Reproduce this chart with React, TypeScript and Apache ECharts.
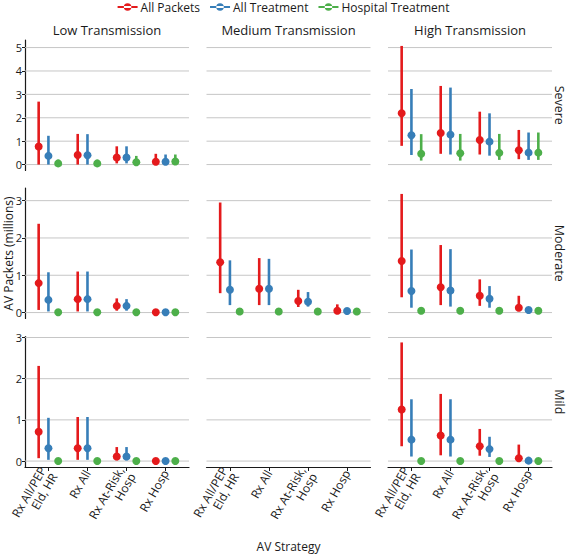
import React, { useEffect, useRef } from "react";
import * as echarts from "echarts";

// ---------- DATA ----------
const categories = ["Rx All/PEP\nEld, HR", "Rx All", "Rx At-Risk,\nHosp", "Rx Hosp"];
const seriesNames = ["All Packets", "All Treatment", "Hospital Treatment"];
const transmissionLevels = ["Low Transmission", "Medium Transmission", "High Transmission"];
const severityLevels = ["Severe", "Moderate", "Mild"];
const severeTicks = [0, 1, 2, 3, 4, 5];
const moderateTicks = [0, 1, 2, 3];
const mildTicks = [0, 1, 2, 3];

// each entry: [estimate, lower, upper] per strategy (millions)
const lowSevereAllPackets = [[0.77, 0, 2.69], [0.41, 0, 1.31], [0.3, 0.05, 0.78], [0.12, 0, 0.46]];
const lowSevereAllTreatment = [[0.37, 0, 1.23], [0.4, 0, 1.3], [0.3, 0.05, 0.78], [0.12, 0, 0.43]];
const lowSevereHospital = [[0.05, 0, 0.2], [0.05, 0, 0.18], [0.1, 0, 0.37], [0.13, 0, 0.43]];

const highSevereAllPackets = [[2.19, 0.8, 5.07], [1.35, 0.46, 3.36], [1.05, 0.43, 2.26], [0.61, 0.23, 1.48]];
const highSevereAllTreatment = [[1.25, 0.41, 3.23], [1.28, 0.43, 3.29], [0.98, 0.38, 2.19], [0.51, 0.2, 1.37]];
const highSevereHospital = [[0.46, 0.17, 1.3], [0.48, 0.17, 1.31], [0.5, 0.2, 1.31], [0.51, 0.2, 1.37]];

const lowModerateAllPackets = [[0.79, 0.07, 2.38], [0.36, 0.03, 1.1], [0.18, 0.05, 0.38], [0.01, 0, 0.03]];
const lowModerateAllTreatment = [[0.34, 0.03, 1.08], [0.36, 0.03, 1.1], [0.18, 0.05, 0.36], [0.01, 0, 0.03]];
const lowModerateHospital = [[0.01, 0, 0.02], [0.01, 0, 0.02], [0.01, 0, 0.02], [0.01, 0, 0.02]];

const mediumModerateAllPackets = [[1.35, 0.52, 2.95], [0.64, 0.2, 1.46], [0.31, 0.15, 0.61], [0.05, 0, 0.22]];
const mediumModerateAllTreatment = [[0.61, 0.2, 1.4], [0.64, 0.2, 1.44], [0.29, 0.16, 0.55], [0.04, 0.01, 0.08]];
const mediumModerateHospital = [[0.03, 0, 0.05], [0.03, 0, 0.05], [0.03, 0, 0.05], [0.03, 0, 0.05]];

const highModerateAllPackets = [[1.38, 0.41, 3.18], [0.68, 0.2, 1.81], [0.45, 0.18, 0.89], [0.13, 0.05, 0.45]];
const highModerateAllTreatment = [[0.58, 0.13, 1.69], [0.59, 0.16, 1.7], [0.37, 0.13, 0.71], [0.07, 0.03, 0.12]];
const highModerateHospital = [[0.05, 0.01, 0.08], [0.05, 0.01, 0.08], [0.05, 0.01, 0.08], [0.05, 0.01, 0.08]];

const lowMildAllPackets = [[0.71, 0.07, 2.31], [0.31, 0.03, 1.07], [0.11, 0.02, 0.34], [0.0, 0, 0.02]];
const lowMildAllTreatment = [[0.31, 0.03, 1.05], [0.31, 0.03, 1.07], [0.11, 0.02, 0.34], [0.0, 0, 0.02]];
const lowMildHospital = [[0.0, 0, 0.01], [0.0, 0, 0.01], [0.0, 0, 0.01], [0.0, 0, 0.01]];

const highMildAllPackets = [[1.25, 0.36, 2.88], [0.62, 0.14, 1.63], [0.36, 0.13, 0.78], [0.07, 0, 0.4]];
const highMildAllTreatment = [[0.52, 0.11, 1.5], [0.52, 0.11, 1.5], [0.29, 0.1, 0.59], [0.01, 0, 0.03]];
const highMildHospital = [[0.0, 0, 0.01], [0.0, 0, 0.01], [0.0, 0, 0.01], [0.0, 0, 0.01]];

// ---------- STYLE / LAYOUT ----------
const COLORS = ["#E41A1C", "#377EB8", "#4DAF4A"];
const FONT = "Open Sans";
const TEXT_COLOR = "#1a1a1a";
const COL_LEFT = [25, 206.5, 388];
const COL_W = 164;
const ROW_TOP = [40, 188, 336.5];
const ROW_H = 130.5;
const X_MIN = 0.4;
const X_MAX = 4.6;
const DODGE = 0.25;
const LEGEND_ICON = "path://M0,2.75H20V4.75H0Z M6.25,3.75A3.75,3.75 0 1 0 13.75,3.75A3.75,3.75 0 1 0 6.25,3.75Z";

type Triple = number[][];
const panels: (Triple[] | null)[][] = [
  [[lowSevereAllPackets, lowSevereAllTreatment, lowSevereHospital], null, [highSevereAllPackets, highSevereAllTreatment, highSevereHospital]],
  [
    [lowModerateAllPackets, lowModerateAllTreatment, lowModerateHospital],
    [mediumModerateAllPackets, mediumModerateAllTreatment, mediumModerateHospital],
    [highModerateAllPackets, highModerateAllTreatment, highModerateHospital],
  ],
  [[lowMildAllPackets, lowMildAllTreatment, lowMildHospital], null, [highMildAllPackets, highMildAllTreatment, highMildHospital]],
];
const rowTicks = [severeTicks, moderateTicks, mildTicks];

function buildOption() {
  const grids: any[] = [];
  const xAxes: any[] = [];
  const yAxes: any[] = [];
  const series: any[] = [];
  const catTicks = categories.map((_, i) => i + 1);

  for (let r = 0; r < 3; r++) {
    let maxV = 0;
    panels[r].forEach((p) => p && p.forEach((arr) => arr.forEach((d) => (maxV = Math.max(maxV, d[2])))));
    const pad = 0.05 * maxV;
    const yMin = -pad;
    const yMax = maxV + pad;
    for (let c = 0; c < 3; c++) {
      const idx = r * 3 + c;
      grids.push({ left: COL_LEFT[c], top: ROW_TOP[r], width: COL_W, height: ROW_H });
      xAxes.push({
        gridIndex: idx,
        type: "value",
        min: X_MIN,
        max: X_MAX,
        splitLine: { show: false },
        axisLine: { show: r === 2, onZero: false, lineStyle: { color: TEXT_COLOR, width: 1.2 } },
        axisTick: { show: r === 2, customValues: catTicks, length: 4, lineStyle: { color: TEXT_COLOR } },
        axisLabel: {
          show: r === 2,
          customValues: catTicks,
          formatter: (v: number) => categories[Math.round(v) - 1] ?? "",
          rotate: 60,
          fontSize: 12,
          lineHeight: 13,
          margin: 4,
          color: TEXT_COLOR,
          fontFamily: FONT,
        },
      });
      yAxes.push({
        gridIndex: idx,
        type: "value",
        min: yMin,
        max: yMax,
        splitLine: { show: false },
        axisLine: { show: c === 0, onZero: false, lineStyle: { color: TEXT_COLOR, width: 1.2 } },
        axisTick: { show: c === 0, customValues: rowTicks[r], length: 3, lineStyle: { color: TEXT_COLOR } },
        axisLabel: {
          show: c === 0,
          customValues: rowTicks[r],
          fontSize: 11,
          margin: 3,
          color: TEXT_COLOR,
          fontFamily: FONT,
        },
      });
      // horizontal grid lines
      series.push({
        type: "custom",
        xAxisIndex: idx,
        yAxisIndex: idx,
        silent: true,
        z: 1,
        data: rowTicks[r].map((t) => [(X_MIN + X_MAX) / 2, t]),
        encode: { x: 0, y: 1 },
        renderItem: (params: any, api: any) => {
          const cs = params.coordSys;
          const y = api.coord([api.value(0), api.value(1)])[1];
          return {
            type: "line",
            shape: { x1: cs.x, y1: y, x2: cs.x + cs.width, y2: y },
            style: { stroke: "#c6c6c6", lineWidth: 1 },
          };
        },
      });
      const pd = panels[r][c];
      if (pd) {
        pd.forEach((arr, s) => {
          const off = (s - 1) * DODGE;
          const color = COLORS[s];
          series.push({
            type: "custom",
            name: seriesNames[s],
            xAxisIndex: idx,
            yAxisIndex: idx,
            silent: true,
            z: 2,
            itemStyle: { color },
            data: arr.map((d, i) => [i + 1 + off, d[1], d[2]]),
            encode: { x: 0, y: [1, 2] },
            renderItem: (_p: any, api: any) => {
              const x = api.value(0);
              const p1 = api.coord([x, api.value(1)]);
              const p2 = api.coord([x, api.value(2)]);
              return {
                type: "line",
                shape: { x1: p1[0], y1: p1[1], x2: p2[0], y2: p2[1] },
                style: { stroke: color, lineWidth: 2.6 },
              };
            },
          });
          series.push({
            type: "scatter",
            name: seriesNames[s],
            xAxisIndex: idx,
            yAxisIndex: idx,
            silent: true,
            z: 3,
            symbol: "circle",
            symbolSize: 8,
            itemStyle: { color, opacity: 1 },
            data: arr.map((d, i) => [i + 1 + off, d[0]]),
          });
        });
      }
    }
  }

  const graphic: any[] = [];
  transmissionLevels.forEach((t, c) => {
    graphic.push({
      type: "text",
      x: COL_LEFT[c] + COL_W / 2,
      y: 30,
      style: { text: t, fontSize: 13, fontFamily: FONT, fill: TEXT_COLOR, align: "center", verticalAlign: "middle" },
    });
  });
  severityLevels.forEach((s, r) => {
    graphic.push({
      type: "text",
      x: 559,
      y: ROW_TOP[r] + ROW_H / 2,
      rotation: -Math.PI / 2,
      style: { text: s, fontSize: 12.5, fontFamily: FONT, fill: TEXT_COLOR, align: "center", verticalAlign: "middle" },
    });
  });
  graphic.push({
    type: "text",
    x: 8,
    y: (ROW_TOP[0] + ROW_TOP[2] + ROW_H) / 2,
    rotation: Math.PI / 2,
    style: { text: "AV Packets (millions)", fontSize: 12, fontFamily: FONT, fill: TEXT_COLOR, align: "center", verticalAlign: "middle" },
  });
  graphic.push({
    type: "text",
    x: (COL_LEFT[0] + COL_LEFT[2] + COL_W) / 2,
    y: 546,
    style: { text: "AV Strategy", fontSize: 12, fontFamily: FONT, fill: TEXT_COLOR, align: "center", verticalAlign: "middle" },
  });

  return {
    animation: false,
    backgroundColor: "#ffffff",
    textStyle: { fontFamily: FONT },
    legend: {
      top: 1,
      left: "center",
      padding: 0,
      itemWidth: 20,
      itemHeight: 7.5,
      itemGap: 10,
      selectedMode: false,
      textStyle: { fontSize: 12, color: TEXT_COLOR, fontFamily: FONT, padding: [0, 0, 0, -2] },
      data: seriesNames.map((n, i) => ({ name: n, icon: LEGEND_ICON, itemStyle: { color: COLORS[i] } })),
    },
    grid: grids,
    xAxis: xAxes,
    yAxis: yAxes,
    series,
    graphic,
  };
}

export default function App() {
  const ref = useRef<HTMLDivElement>(null);
  useEffect(() => {
    const chart = echarts.init(ref.current!, null, { renderer: "svg" });
    chart.setOption(buildOption() as any);
    return () => chart.dispose();
  }, []);
  return <div ref={ref} style={{ position: "absolute", left: 0, top: 0, width: 567, height: 554 }} />;
}
